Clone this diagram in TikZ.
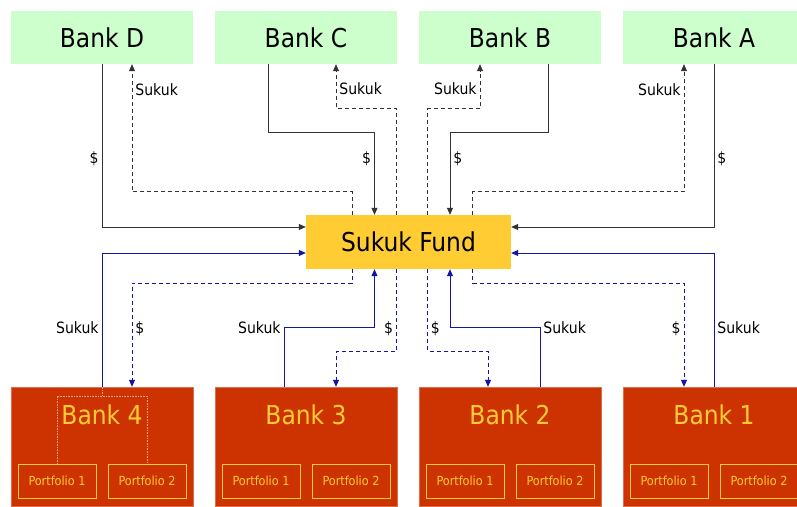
\documentclass[tikz,border=0pt]{standalone}
\usepackage{fontspec}
\setmainfont{DejaVu Sans Condensed}
\usetikzlibrary{arrows.meta}

\definecolor{lender}{HTML}{CCFFCC}
\definecolor{fundgold}{HTML}{FFCC33}
\definecolor{bankred}{HTML}{CC3300}
\definecolor{flowblue}{RGB}{20,20,170}

\begin{document}
\begin{tikzpicture}[x=1pt,y=-1pt,>={Triangle[length=7pt,width=6pt]},
topbank/.style={fill=lender,minimum width=182pt,minimum height=53pt,
  font=\fontsize{26}{30}\selectfont},
fundbox/.style={fill=fundgold,minimum width=205pt,minimum height=54pt,
  font=\fontsize{26}{30}\selectfont},
lowbank/.style={fill=bankred,draw=bankred!70!white,line width=0.4pt,
  minimum width=182pt,minimum height=119pt},
lowname/.style={text=fundgold,font=\fontsize{26}{30}\selectfont},
portfolio/.style={draw=fundgold,fill=bankred,text=fundgold,line width=0.8pt,
  minimum width=78pt,minimum height=34pt,font=\fontsize{12.5}{14}\selectfont},
flow/.style={->,line width=0.8pt},
paid/.style={flow,black!80},
issued/.style={flow,black!80,dash pattern=on 4pt off 3pt},
back/.style={flow,flowblue},
backpaid/.style={flow,flowblue,dash pattern=on 4pt off 3pt},
lbl/.style={text=black,inner sep=3pt,font=\fontsize{15.6}{18}\selectfont},
bracket/.style={draw=white!55!bankred,densely dotted,line width=0.6pt}]
\useasboundingbox[fill=white] (0,0) rectangle (797,506);

% investing banks on top
\foreach \name/\x in {D/102,C/306,B/510,A/714}
  \node[topbank] (bank\name) at (\x,37.5) {Bank \name};

\node[fundbox] (fund) at (408.5,242) {Sukuk Fund};

% borrowing banks with their portfolios
\foreach \n/\x in {4/102,3/306,2/510,1/714}{
  \node[lowbank] (bank\n) at (\x,446.5) {};
  \node[lowname] (bank\n name) at ([yshift=-28pt]bank\n.north) {Bank \n};
  \node[portfolio] (bank\n p1) at (\x-45,481) {Portfolio 1};
  \node[portfolio] (bank\n p2) at (\x+45,481) {Portfolio 2};
}

% split of bank 4 into portfolios
\draw[bracket] (bank4.north) -- ++(0,9) coordinate (split);
\draw[bracket] (bank4p1.north) |- (split) -| (bank4p2.north);

% cash in, sukuk out (upper half)
\draw[paid] (bankD.south) |- node[pos=0.29,left,lbl]{\$} ([yshift=15pt]fund.west);
\draw[issued] ([xshift=-56.5pt]fund.north) -- ++(0,-23)
  -| node[pos=0.9,right,lbl]{Sukuk} ([xshift=30pt]bankD.south);
\draw[paid] ([xshift=-38pt]bankC.south) -- ++(0,68)
  -| node[pos=0.66,left,lbl]{\$} ([xshift=-34pt]fund.north);
\draw[issued] ([xshift=-12pt]fund.north) -- ++(0,-106)
  -| node[pos=0.72,right,lbl]{Sukuk} ([xshift=30pt]bankC.south);
\draw[paid] ([xshift=38pt]bankB.south) -- ++(0,68)
  -| node[pos=0.66,right,lbl]{\$} ([xshift=41.5pt]fund.north);
\draw[issued] ([xshift=19pt]fund.north) -- ++(0,-106)
  -| node[pos=0.72,left,lbl]{Sukuk} ([xshift=-30pt]bankB.south);
\draw[paid] (bankA.south) |- node[pos=0.29,right,lbl]{\$} ([yshift=15pt]fund.east);
\draw[issued] ([xshift=64pt]fund.north) -- ++(0,-23)
  -| node[pos=0.9,left,lbl]{Sukuk} ([xshift=-30pt]bankA.south);

% sukuk in, cash out (lower half)
\draw[back] (bank4.north) |- node[pos=0.22,left,lbl]{Sukuk} ([yshift=-11pt]fund.west);
\draw[backpaid] ([xshift=-56.5pt]fund.south) -- ++(0,14)
  -| node[pos=0.72,right,lbl]{\$} ([xshift=30pt]bank4.north);
\draw[back] ([xshift=-22pt]bank3.north) -- node[at end,left,lbl]{Sukuk} ++(0,-59)
  -| ([xshift=-34pt]fund.south);
\draw[backpaid] ([xshift=-12pt]fund.south) -- node[pos=0.73,left,lbl]{\$} ++(0,82)
  -| ([xshift=30pt]bank3.north);
\draw[backpaid] ([xshift=19pt]fund.south) -- node[pos=0.73,right,lbl]{\$} ++(0,82)
  -| ([xshift=-22pt]bank2.north);
\draw[back] ([xshift=30pt]bank2.north) -- node[at end,right,lbl]{Sukuk} ++(0,-59)
  -| ([xshift=41.5pt]fund.south);
\draw[backpaid] ([xshift=64pt]fund.south) -- ++(0,14)
  -| node[pos=0.72,left,lbl]{\$} ([xshift=-30pt]bank1.north);
\draw[back] (bank1.north) |- node[pos=0.22,right,lbl]{Sukuk} ([yshift=-11pt]fund.east);
\end{tikzpicture}
\end{document}
